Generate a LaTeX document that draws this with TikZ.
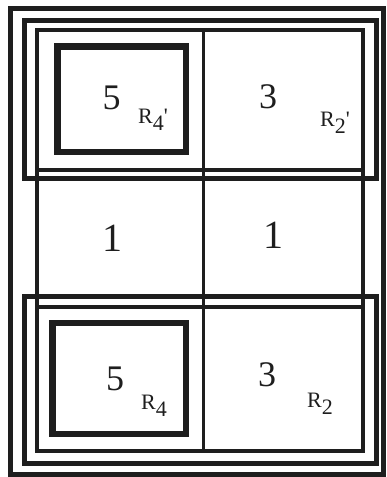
\documentclass[tikz,border=0pt]{standalone}
\usepackage{fontspec}
\setmainfont{Liberation Serif}
\definecolor{bxink}{HTML}{1E1E1E}
\tikzset{
  bx frame/.style={draw=bxink, line width=5pt},
  bx grid/.style={draw=bxink, line width=3.5pt},
  bx square/.style={draw=bxink, line width=6.5pt},
  bx num/.style={font=\fontsize{36}{36}\selectfont, text=bxink, inner sep=0pt},
  bx one/.style={bx num, font=\fontsize{40}{40}\selectfont},
  bx label/.style={font=\fontsize{22}{22}\selectfont, text=bxink, inner sep=0pt,
    anchor=base west}
}

\begin{document}
\begin{tikzpicture}[x=1pt, y=-1pt]
  \useasboundingbox (0,0) rectangle (386,477);
  % outer frame and the two groups
  \draw[bx frame] (10,8.5) rectangle (383,474);
  \draw[bx frame] (24.5,20.5) rectangle (376.5,178);
  \draw[bx frame] (24.5,296) rectangle (376,463.5);
  % table
  \draw[bx grid] (37,30) rectangle (363,451);
  \draw[bx grid] (37,170) -- (363,170);
  \draw[bx grid] (37,307) -- (363,307);
  \draw[bx grid] (203.5,30) -- (203.5,451);
  % thick squares
  \draw[bx square] (57.5,46.5) rectangle (186,152);
  \draw[bx square] (52.5,323) rectangle (186,434);
  % cell entries
  \node[bx num] (fiveTop) at (111.5,98) {5};
  \node[bx num] (threeTop) at (268,96.5) {3};
  \node[bx one] (oneLeft) at (112,238.5) {1};
  \node[bx one] (oneRight) at (273,235) {1};
  \node[bx num] (fiveBot) at (115,379) {5};
  \node[bx num] (threeBot) at (267,374.5) {3};
  % region labels
  \node[bx label] (rFourP) at (138,123) {R\raisebox{-7pt}{4}\textquotesingle};
  \node[bx label] (rTwoP) at (320,126) {R\raisebox{-7pt}{2}\textquotesingle};
  \node[bx label] (rFour) at (141,409) {R\raisebox{-7pt}{4}};
  \node[bx label] (rTwo) at (307,407) {R\raisebox{-7pt}{2}};
\end{tikzpicture}
\end{document}
